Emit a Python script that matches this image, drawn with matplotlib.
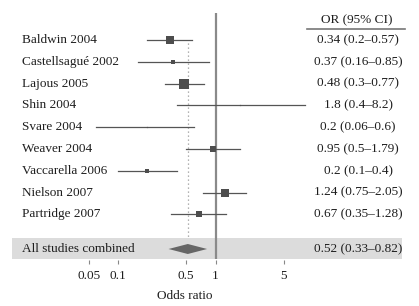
import numpy as np
import matplotlib.pyplot as plt

# Study data (odds ratios with 95% CI)
studies = ["Baldwin 2004", "Castellsagué 2002", "Lajous 2005", "Shin 2004",
           "Svare 2004", "Weaver 2004", "Vaccarella 2006", "Nielson 2007",
           "Partridge 2007"]
odds_ratio = [0.34, 0.37, 0.48, 1.8, 0.2, 0.95, 0.2, 1.24, 0.67]
ci_low = [0.2, 0.16, 0.3, 0.4, 0.06, 0.5, 0.1, 0.75, 0.35]
ci_high = [0.57, 0.85, 0.77, 8.2, 0.6, 1.79, 0.4, 2.05, 1.28]
# relative study weights (box areas)
weights = [21.5, 2.7, 29.9, 0.3, 0.3, 10.7, 6.6, 20.6, 7.5]

combined_label = "All studies combined"
combined_or = 0.52
combined_low = 0.33
combined_high = 0.82

tick_values = [0.05, 0.1, 0.5, 1, 5]
tick_labels = ["0.05", "0.1", "0.5", "1", "5"]

plt.rcParams['font.family'] = ['Liberation Serif', 'DejaVu Serif']
FS = 9.5
TXT = "#1e1e1e"

W, H = 419, 306
fig = plt.figure(figsize=(W / 100, H / 100), dpi=100)

# axes spans full width, from top down to pixel 260
ax_bottom_px = 260
ax = fig.add_axes([0, (H - ax_bottom_px) / H, 1, ax_bottom_px / H])

# x mapping: OR=1 at px 215.5, 97.5 px per decade
x0_px, dec_px = 215.5, 97.5
ax.set_xscale("log")
ax.set_xlim(10 ** (-x0_px / dec_px), 10 ** ((W - x0_px) / dec_px))

# y mapping: first row at px 40, 21.8 px per row
y0_px, row_px = 40, 21.8
def row(px):
    return (px - y0_px) / row_px
ax.set_ylim(row(ax_bottom_px), row(0))

n = len(studies)
ys = np.arange(n)
y_comb = row(249)

# shaded band for combined row
ax.axhspan(row(238), row(259), xmin=12 / W, xmax=402 / W,
           color="#dcdcdc", zorder=0, lw=0)

# reference lines
ax.plot([1, 1], [row(13), row(259)], color="#8a8a8a", lw=1.6, zorder=2,
        solid_capstyle="butt")
ax.plot([combined_or, combined_or], [row(43), row(237)], color="#9a9a9a",
        lw=0.9, ls=(0, (1, 2.2)), zorder=1)

# study CIs and boxes
for i in range(n):
    ax.plot([ci_low[i], ci_high[i]], [ys[i], ys[i]], color="#555555",
            lw=0.9, zorder=3)
    side_px = 1.83 * np.sqrt(weights[i])
    ax.plot(odds_ratio[i], ys[i], marker="s", ms=max(side_px, 1.2) * 0.72,
            color="#4d4d4d", mew=0, zorder=4)

# combined diamond
dh = row(254) - row(249)
ax.fill([combined_low, combined_or, combined_high, combined_or],
        [y_comb, y_comb - dh, y_comb, y_comb + dh],
        color="#666666", lw=0, zorder=4)

# left labels and right OR text
lab_x = 22 / W
or_x = 358 / W
for i in range(n):
    ax.text(lab_x, ys[i], studies[i], transform=ax.get_yaxis_transform(),
            ha="left", va="center", fontsize=FS, color=TXT)
    ax.text(or_x, ys[i], f"{odds_ratio[i]:g} ({ci_low[i]:g}\u2013{ci_high[i]:g})",
            transform=ax.get_yaxis_transform(), ha="center", va="center",
            fontsize=FS, color=TXT)
ax.text(lab_x, y_comb, combined_label, transform=ax.get_yaxis_transform(),
        ha="left", va="center", fontsize=FS, color=TXT)
ax.text(or_x, y_comb, f"{combined_or:g} ({combined_low:g}\u2013{combined_high:g})",
        transform=ax.get_yaxis_transform(), ha="center", va="center",
        fontsize=FS, color=TXT)

# header
ax.text(357 / W, row(20), "OR (95% CI)", transform=ax.get_yaxis_transform(),
        ha="center", va="center", fontsize=FS, color=TXT)
ax.plot([307 / W, 405 / W], [row(29), row(29)], transform=ax.get_yaxis_transform(),
        color="#777777", lw=1.2, clip_on=False)

# axis styling
for s in ax.spines.values():
    s.set_visible(False)
ax.set_yticks([])
ax.set_xticks(tick_values)
ax.set_xticklabels(tick_labels)
ax.xaxis.set_minor_locator(plt.NullLocator())
ax.tick_params(axis="x", direction="out", length=3, width=0.8, color="#888888",
               pad=4.5, labelsize=FS, labelcolor=TXT)
ax.set_xlabel("Odds ratio", fontsize=FS, color=TXT)
ax.xaxis.set_label_coords(185 / W, -(295 - ax_bottom_px) / ax_bottom_px + 0.02)

fig.savefig("out.png", dpi=100)
